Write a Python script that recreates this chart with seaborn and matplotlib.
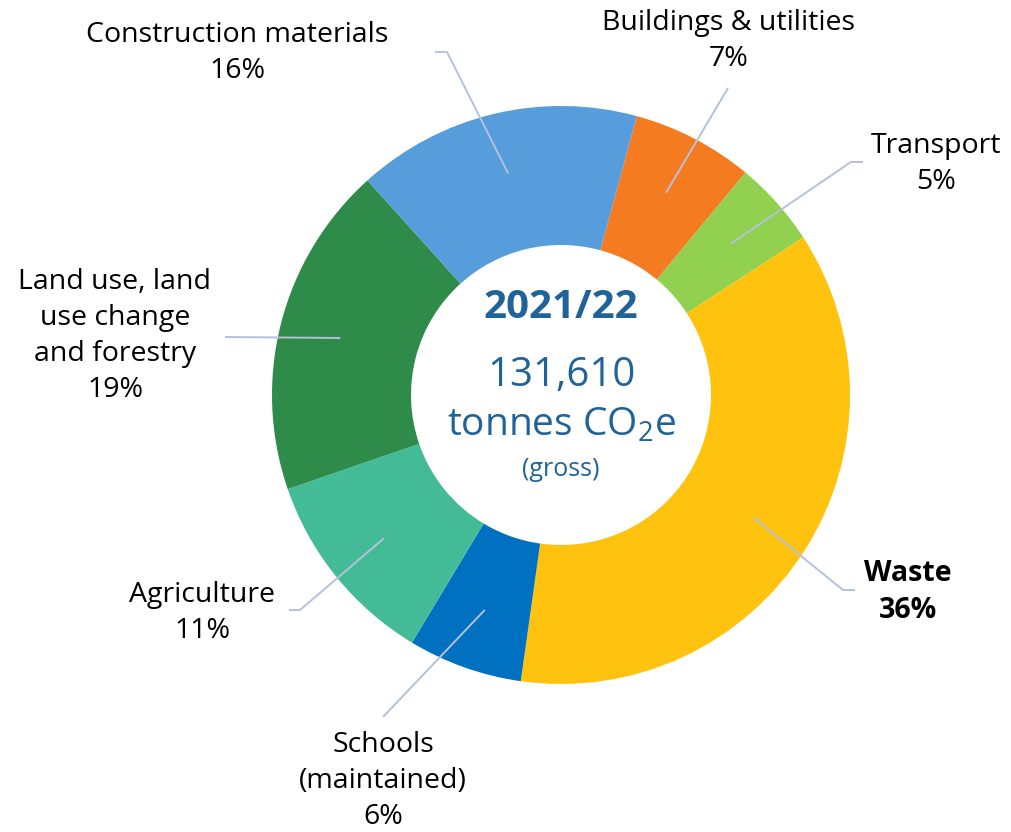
import numpy as np
import matplotlib
matplotlib.use("Agg")
import matplotlib.pyplot as plt
import seaborn as sns

# ---- data ----
categories = ["Buildings & utilities", "Transport", "Waste", "Schools\n(maintained)",
              "Agriculture", "Land use, land\nuse change\nand forestry", "Construction materials"]
shares = [6.8, 4.8, 36.4, 6.4, 11.1, 18.6, 15.9]   # % of gross emissions (estimated from angles)
colors = ["#F47B20", "#92D050", "#FFC30F", "#0070C0", "#43BB96", "#2E8B4A", "#589DDB"]
center_year = "2021/22"
center_total = "131,610"

sns.set_theme(style="white")
plt.rcParams['font.family'] = ['Open Sans', 'DejaVu Sans']
plt.rcParams['mathtext.fontset'] = 'custom'
plt.rcParams['mathtext.rm'] = 'Open Sans'

W, H = 1012, 832
fig = plt.figure(figsize=(W / 100, H / 100), dpi=100)
ax = fig.add_axes([0, 0, 1, 1])

cx, cy = 561, H - 395
R_out, R_in = 289, 150
start_cw = 15.2  # degrees clockwise from top

wedges, _ = ax.pie(shares, colors=colors, radius=R_out, center=(cx, cy),
                   startangle=90 - start_cw, counterclock=False,
                   wedgeprops=dict(width=R_out - R_in, linewidth=0), frame=True)
ax.set_xlim(0, W)
ax.set_ylim(0, H)
ax.set_aspect('equal')
ax.axis('off')

# label layout (pixel positions, image coords from top)
label_pos = [(729, 41), (936, 164), (908, 592), (383, 781), (202, 613), (115, 336), (237, 53)]
leader_end = [[(728, 88)], [(851, 162), (863, 162)], [(843, 590), (855, 590)], [(383, 717)],
              [(300, 610), (289, 610)], [(225, 337)], [(447, 52), (435, 52)]]
bold = [False, False, True, False, False, False, False]

total = sum(shares)
acc = 0.0
for i, (cat, s) in enumerate(zip(categories, shares)):
    mid = start_cw + (acc + s / 2) / total * 360.0
    acc += s
    r_mid = 228
    x0 = cx + r_mid * np.sin(np.radians(mid))
    y0 = cy + r_mid * np.cos(np.radians(mid))
    xs = [x0] + [p[0] for p in leader_end[i]]
    ys = [y0] + [H - p[1] for p in leader_end[i]]
    ax.plot(xs, ys, color="#B4C1DE", lw=1.4, solid_capstyle='butt', zorder=3)
    lx, ly = label_pos[i]
    ax.text(lx, H - ly, f"{cat}\n{round(s)}%", ha='center', va='center', fontsize=20.5,
            linespacing=1.38, color="black",
            fontweight='bold' if bold[i] else 'normal')

blue = "#1F6398"
ax.text(cx, H - 307, center_year, ha='center', va='center', fontsize=29,
        fontweight='bold', color=blue)
ax.text(cx, H - 376, center_total, ha='center', va='center', fontsize=29, color=blue)
ax.text(cx, H - 426, r"tonnes CO$_{\mathregular{2}}$e", ha='center', va='center',
        fontsize=28, color=blue)
ax.text(cx, H - 470, "(gross)", ha='center', va='center', fontsize=18, color=blue)

fig.savefig("out.png", dpi=100, facecolor="white")
